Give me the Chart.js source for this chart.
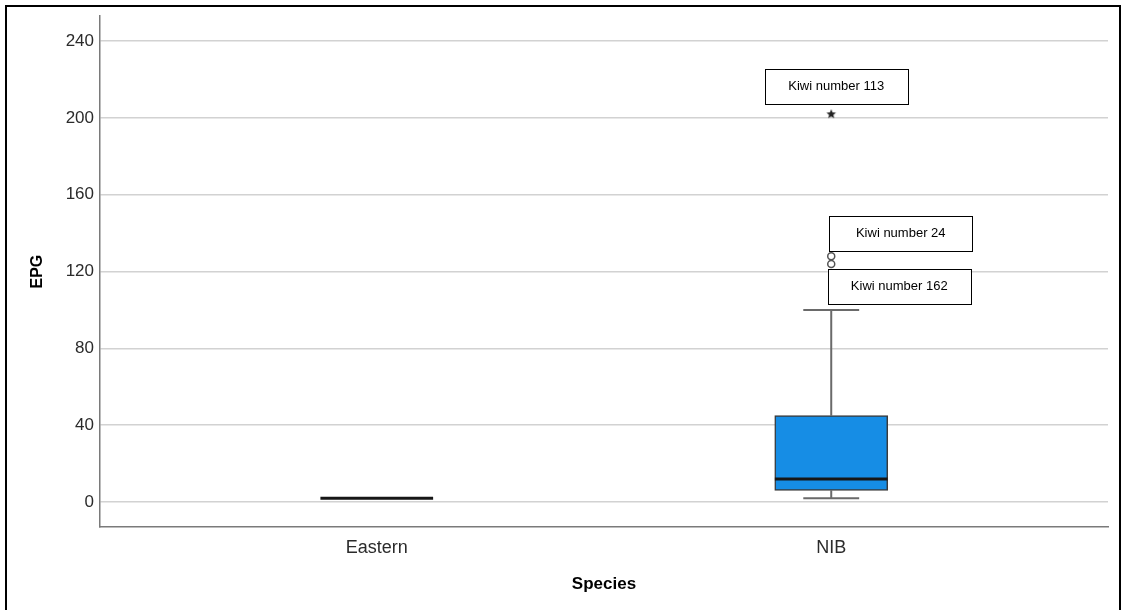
<!DOCTYPE html>
<html lang="en">
<head>
    <meta charset="UTF-8">
    <title>EPG by Species</title>
    <script src="https://cdn.jsdelivr.net/npm/chart.js"></script>
    <style>
        html, body {
            margin: 0;
            padding: 0;
            background: #ffffff;
            overflow: hidden;
        }
        #wrap {
            position: absolute;
            left: 0;
            top: 0;
            width: 1122px;
            height: 610px;
        }
        /* black frame round the whole figure, bottom edge runs off the page */
        #frame {
            position: absolute;
            left: 5px;
            top: 5px;
            width: 1112px;
            height: 700px;
            border: 2px solid #000000;
            pointer-events: none;
        }
    </style>
</head>
<body>

<div id="wrap">
    <canvas id="boxChart" width="1122" height="610"></canvas>
    <div id="frame"></div>
</div>

<script>
  // Data
  const CATEGORIES = ['Eastern', 'NIB'];
  const MINS = [2, 2];
  const Q1S = [2, 6];
  const MEDIANS = [2, 12];
  const Q3S = [2, 45];
  const MAXES = [2, 100];
  // outliers: category index, value, marker, label
  const OUTLIER_CAT = [1, 1, 1];
  const OUTLIER_VAL = [128, 124, 202];
  const OUTLIER_KIND = ['circle', 'circle', 'star'];
  const OUTLIER_LABELS = ['Kiwi number 24', 'Kiwi number 162', 'Kiwi number 113'];
  const Y_TICKS = [0, 40, 80, 120, 160, 200, 240];

  const BOX_HALF = 0.124;
  const CAP_HALF = 0.0615;

  // build the datasets from the arrays above
  const boxData = [];
  const medianData = [];
  const whiskerData = [];
  CATEGORIES.forEach((c, i) => {
      if (Q3S[i] > Q1S[i]) {
          boxData.push({ x: i, y: [Q1S[i], Q3S[i]] });
      }
      medianData.push({ x: i - BOX_HALF, y: MEDIANS[i] }, { x: i + BOX_HALF, y: MEDIANS[i] }, { x: i, y: null });
      if (MAXES[i] > Q3S[i]) {
          whiskerData.push({ x: i, y: Q3S[i] }, { x: i, y: MAXES[i] }, { x: i, y: null });
          whiskerData.push({ x: i - CAP_HALF, y: MAXES[i] }, { x: i + CAP_HALF, y: MAXES[i] }, { x: i, y: null });
      }
      if (MINS[i] < Q1S[i]) {
          whiskerData.push({ x: i, y: Q1S[i] }, { x: i, y: MINS[i] }, { x: i, y: null });
          whiskerData.push({ x: i - CAP_HALF, y: MINS[i] }, { x: i + CAP_HALF, y: MINS[i] }, { x: i, y: null });
      }
  });

  const circleData = [];
  const starData = [];
  OUTLIER_VAL.forEach((v, i) => {
      const p = { x: OUTLIER_CAT[i], y: v, label: OUTLIER_LABELS[i] };
      if (OUTLIER_KIND[i] === 'star') starData.push(p); else circleData.push(p);
  });

  // filled five point star used as point style
  function makeStar(r) {
      const cv = document.createElement('canvas');
      cv.width = r * 2 + 2;
      cv.height = r * 2 + 2;
      const c = cv.getContext('2d');
      c.fillStyle = '#222222';
      c.beginPath();
      for (let k = 0; k < 10; k++) {
          const rad = k % 2 === 0 ? r : r * 0.45;
          const a = -Math.PI / 2 + k * Math.PI / 5;
          const px = r + 1 + rad * Math.cos(a);
          const py = r + 1 + rad * Math.sin(a);
          if (k === 0) c.moveTo(px, py); else c.lineTo(px, py);
      }
      c.closePath();
      c.fill();
      return cv;
  }

  // label boxes beside the outliers (offsets in pixels from the point)
  const labelOffsets = {
      'Kiwi number 113': [5, -27.5],
      'Kiwi number 24': [69.5, -22.5],
      'Kiwi number 162': [68, 23]
  };

  const outlierLabels = {
      id: 'outlierLabels',
      afterDatasetsDraw(chart) {
          const ctx = chart.ctx;
          const xs = chart.scales.x;
          const ys = chart.scales.y;
          ctx.save();
          ctx.font = '13px "Liberation Sans", Arial, sans-serif';
          ctx.textAlign = 'center';
          ctx.textBaseline = 'middle';
          OUTLIER_VAL.forEach((v, i) => {
              const off = labelOffsets[OUTLIER_LABELS[i]];
              const cx = xs.getPixelForValue(OUTLIER_CAT[i]) + off[0];
              const cy = ys.getPixelForValue(v) + off[1];
              const w = 143, h = 35;
              ctx.fillStyle = '#ffffff';
              ctx.fillRect(cx - w / 2, cy - h / 2, w, h);
              ctx.strokeStyle = '#000000';
              ctx.lineWidth = 1;
              ctx.strokeRect(Math.round(cx - w / 2) + 0.5, Math.round(cy - h / 2) + 0.5, w, h);
              ctx.fillStyle = '#000000';
              ctx.fillText(OUTLIER_LABELS[i], cx, cy);
          });
          ctx.restore();
      }
  };

  const ctx = document.getElementById('boxChart').getContext('2d');
  new Chart(ctx, {
      data: {
          datasets: [
              {
                  type: 'line',
                  label: 'whiskers',
                  data: whiskerData,
                  borderColor: '#6a6a6a',
                  borderWidth: 2,
                  pointRadius: 0,
                  spanGaps: false,
                  order: 3
              },
              {
                  type: 'bar',
                  label: 'box',
                  data: boxData,
                  backgroundColor: '#168de5',
                  borderColor: '#3a3a3a',
                  borderWidth: 1.5,
                  borderSkipped: false,
                  barThickness: 113,
                  order: 2
              },
              {
                  type: 'line',
                  label: 'median',
                  data: medianData,
                  borderColor: '#161616',
                  borderWidth: 3,
                  pointRadius: 0,
                  spanGaps: false,
                  order: 1
              },
              {
                  type: 'scatter',
                  label: 'outliers',
                  data: circleData,
                  pointStyle: 'circle',
                  pointRadius: 3.5,
                  pointBackgroundColor: '#ffffff',
                  pointBorderColor: '#555555',
                  pointBorderWidth: 1.5,
                  order: 0
              },
              {
                  type: 'scatter',
                  label: 'extremes',
                  data: starData,
                  pointStyle: makeStar(5),
                  order: 0
              }
          ]
      },
      options: {
          responsive: false,
          animation: false,
          events: [],
          layout: {
              padding: { top: 13, right: 14, left: 0, bottom: 0 }
          },
          scales: {
              x: {
                  type: 'linear',
                  offset: false,
                  min: -0.609,
                  max: 1.609,
                  afterBuildTicks: (scale) => {
                      scale.ticks = CATEGORIES.map((c, i) => ({ value: i }));
                  },
                  afterFit: (scale) => { scale.height = 83; },
                  grid: { display: false, drawTicks: false, offset: false },
                  border: { display: true, color: '#7a7a7a', width: 1.5 },
                  ticks: {
                      autoSkip: false,
                      maxRotation: 0,
                      padding: 10,
                      color: '#2b2b2b',
                      font: { family: '"Liberation Sans", Arial, sans-serif', size: 18 },
                      callback: (v) => CATEGORIES[v] !== undefined ? CATEGORIES[v] : ''
                  },
                  title: {
                      display: true,
                      text: 'Species',
                      color: '#000000',
                      font: { family: '"Liberation Sans", Arial, sans-serif', size: 17, weight: 'bold' },
                      padding: { top: 0, bottom: 15 }
                  }
              },
              y: {
                  min: -13,
                  max: 253,
                  afterBuildTicks: (scale) => {
                      scale.ticks = Y_TICKS.map(v => ({ value: v }));
                  },
                  afterFit: (scale) => { scale.width = 100; },
                  grid: { color: '#d2d2d2', lineWidth: 1.5, drawTicks: false },
                  border: { display: true, color: '#7a7a7a', width: 1.5 },
                  ticks: {
                      padding: 6,
                      color: '#2b2b2b',
                      font: { family: '"Liberation Sans", Arial, sans-serif', size: 17 }
                  },
                  title: {
                      display: true,
                      text: 'EPG',
                      color: '#000000',
                      font: { family: '"Liberation Sans", Arial, sans-serif', size: 16, weight: 'bold' },
                      padding: { top: 28, bottom: 0 }
                  }
              }
          },
          plugins: {
              legend: { display: false },
              tooltip: { enabled: false }
          }
      },
      plugins: [outlierLabels]
  });
</script>

</body>
</html>
